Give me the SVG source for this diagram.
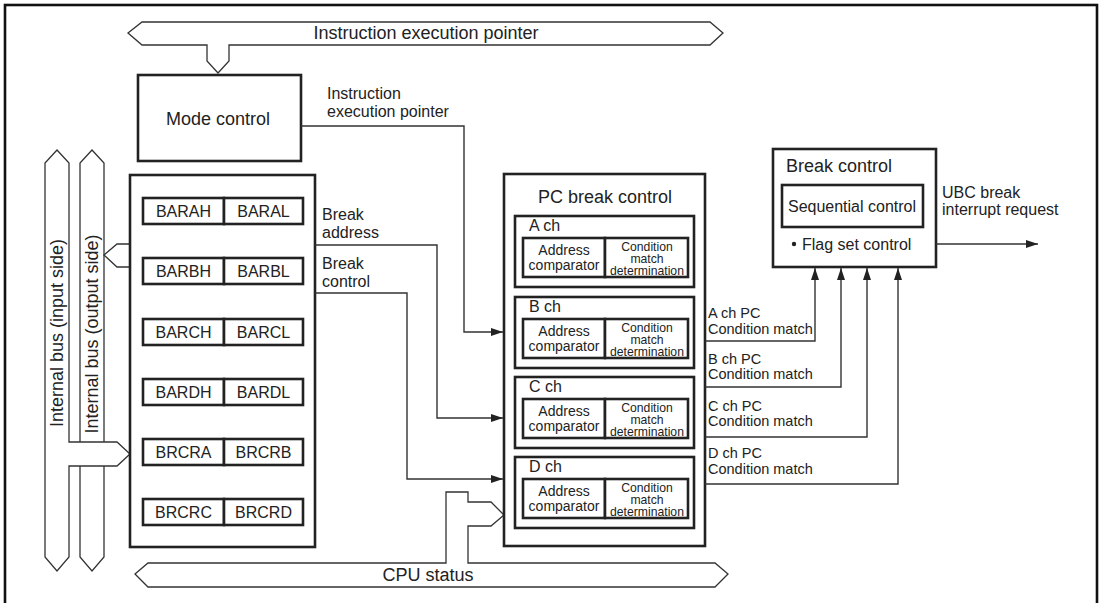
<svg xmlns="http://www.w3.org/2000/svg" width="1103" height="603" viewBox="0 0 1103 603">
<defs>
<style>
text{font-family:"Liberation Sans",Arial,sans-serif;fill:#222}
.t18{font-size:18px}.t16{font-size:16px}.t15{font-size:14.5px}.t14{font-size:14px}.t13{font-size:12.2px}
.mid{text-anchor:middle}
.box{fill:#fff;stroke:#222;stroke-width:2.6}
.bus{fill:#fff;stroke:#333;stroke-width:1.3;stroke-linejoin:miter}
.wire{fill:none;stroke:#333;stroke-width:1.4}
</style>
<marker id="ah" markerUnits="userSpaceOnUse" markerWidth="12" markerHeight="8" refX="12" refY="4" orient="auto">
<path d="M0,0 L12,4 L0,8 z" fill="#222"/>
</marker>
</defs>
<rect x="5" y="5" width="1092" height="600" fill="#fff" stroke="#111" stroke-width="2.6"/>

<g id="bus-instruction-pointer">
<polygon class="bus" points="128,33 142,22 710,22 723,33 710,45 229,45 229,61 218,73 207,61 207,45 142,45"/>
<text class="t18 mid" x="426" y="39">Instruction execution pointer</text>
</g>

<g id="bus-output-side">
<polygon class="bus" points="92,150 104,163 104,557 92,571 80,557 80,163"/>
<polyline class="bus" points="130,244 117,244 104,255 117,267 130,267"/>
<text class="t18 mid" transform="translate(98,334) rotate(-90)">Internal bus (output side)</text>
</g>

<g id="bus-input-side">
<polygon class="bus" points="57,150 69,163 69,442 117,442 130,454 117,466 69,466 69,557 57,571 45,557 45,163"/>
<text class="t18 mid" transform="translate(63,333) rotate(-90)">Internal bus (input side)</text>
</g>

<g id="bus-cpu-status">
<polygon class="bus" points="135,574 148,563 446,563 446,492 468,492 468,502 491,502 504,515 491,526 468,526 468,563 715,563 728,574 715,587 148,587"/>
<text class="t18 mid" x="428" y="581">CPU status</text>
</g>

<g id="mode-control">
<rect class="box" x="138" y="75" width="163" height="86"/>
<text class="t18 mid" x="218" y="125">Mode control</text>
</g>

<g id="registers">
<rect class="box" x="130" y="175" width="185" height="372"/>
<g class="t16">
<rect class="box" x="143" y="198" width="81" height="26"/><rect class="box" x="224" y="198" width="79" height="26"/>
<text class="mid" x="183.5" y="217">BARAH</text><text class="mid" x="263.5" y="217">BARAL</text>
<rect class="box" x="143" y="258" width="81" height="26"/><rect class="box" x="224" y="258" width="79" height="26"/>
<text class="mid" x="183.5" y="277">BARBH</text><text class="mid" x="263.5" y="277">BARBL</text>
<rect class="box" x="143" y="319" width="81" height="26"/><rect class="box" x="224" y="319" width="79" height="26"/>
<text class="mid" x="183.5" y="338">BARCH</text><text class="mid" x="263.5" y="338">BARCL</text>
<rect class="box" x="143" y="379" width="81" height="26"/><rect class="box" x="224" y="379" width="79" height="26"/>
<text class="mid" x="183.5" y="398">BARDH</text><text class="mid" x="263.5" y="398">BARDL</text>
<rect class="box" x="143" y="439" width="81" height="26"/><rect class="box" x="224" y="439" width="79" height="26"/>
<text class="mid" x="183.5" y="458">BRCRA</text><text class="mid" x="263.5" y="458">BRCRB</text>
<rect class="box" x="143" y="499" width="81" height="26"/><rect class="box" x="224" y="499" width="79" height="26"/>
<text class="mid" x="183.5" y="518">BRCRC</text><text class="mid" x="263.5" y="518">BRCRD</text>
</g>
</g>

<g id="pc-break-control">
<rect class="box" x="504" y="174" width="201" height="372"/>
<text class="t18 mid" x="605" y="203">PC break control</text>
<g id="ch-a">
<rect class="box" x="515" y="216" width="179" height="71"/>
<text class="t16" x="529" y="231">A ch</text>
<rect class="box" x="523" y="238" width="82" height="39"/><rect class="box" x="605" y="238" width="83" height="39"/>
<text class="t14 mid" x="564" y="255">Address</text><text class="t14 mid" x="564" y="270">comparator</text>
<text class="t13 mid" x="647" y="250.5">Condition</text><text class="t13 mid" x="647" y="262.5">match</text><text class="t13 mid" x="647" y="274.5">determination</text>
</g>
<g id="ch-b">
<rect class="box" x="515" y="297" width="179" height="71"/>
<text class="t16" x="529" y="312">B ch</text>
<rect class="box" x="523" y="319" width="82" height="39"/><rect class="box" x="605" y="319" width="83" height="39"/>
<text class="t14 mid" x="564" y="336">Address</text><text class="t14 mid" x="564" y="351">comparator</text>
<text class="t13 mid" x="647" y="331.5">Condition</text><text class="t13 mid" x="647" y="343.5">match</text><text class="t13 mid" x="647" y="355.5">determination</text>
</g>
<g id="ch-c">
<rect class="box" x="515" y="377" width="179" height="71"/>
<text class="t16" x="529" y="392">C ch</text>
<rect class="box" x="523" y="399" width="82" height="39"/><rect class="box" x="605" y="399" width="83" height="39"/>
<text class="t14 mid" x="564" y="416">Address</text><text class="t14 mid" x="564" y="431">comparator</text>
<text class="t13 mid" x="647" y="411.5">Condition</text><text class="t13 mid" x="647" y="423.5">match</text><text class="t13 mid" x="647" y="435.5">determination</text>
</g>
<g id="ch-d">
<rect class="box" x="515" y="457" width="179" height="71"/>
<text class="t16" x="529" y="472">D ch</text>
<rect class="box" x="523" y="479" width="82" height="39"/><rect class="box" x="605" y="479" width="83" height="39"/>
<text class="t14 mid" x="564" y="496">Address</text><text class="t14 mid" x="564" y="511">comparator</text>
<text class="t13 mid" x="647" y="491.5">Condition</text><text class="t13 mid" x="647" y="503.5">match</text><text class="t13 mid" x="647" y="515.5">determination</text>
</g>
</g>

<g id="break-control">
<rect class="box" x="773" y="149" width="163" height="118"/>
<text class="t18" x="786" y="172">Break control</text>
<rect class="box" x="782" y="185" width="141" height="42"/>
<text class="t16 mid" x="852" y="212">Sequential control</text>
<circle cx="794" cy="244" r="2.2" fill="#222"/>
<text class="t16" x="802" y="250">Flag set control</text>
</g>

<g id="connectors">
<polyline class="wire" points="301,126 464,126 464,332 503,332" marker-end="url(#ah)"/>
<polyline class="wire" points="315,245 437,245 437,418 503,418" marker-end="url(#ah)"/>
<polyline class="wire" points="315,293 407,293 407,479 503,479" marker-end="url(#ah)"/>
<polyline class="wire" points="705,341 815,341 815,268" marker-end="url(#ah)"/>
<polyline class="wire" points="705,387 841,387 841,268" marker-end="url(#ah)"/>
<polyline class="wire" points="705,437 867,437 867,268" marker-end="url(#ah)"/>
<polyline class="wire" points="705,484 898,484 898,268" marker-end="url(#ah)"/>
<line class="wire" x1="936" y1="244" x2="1038" y2="244" marker-end="url(#ah)"/>
</g>

<g id="labels" class="t16">
<text x="327" y="99">Instruction</text>
<text x="327" y="117">execution pointer</text>
<text x="322" y="220">Break</text>
<text x="322" y="238">address</text>
<text x="322" y="269">Break</text>
<text x="322" y="287">control</text>
<text x="942" y="198">UBC break</text>
<text x="942" y="215">interrupt request</text>
<g class="t15">
<text x="708" y="318">A ch PC</text><text x="708" y="334">Condition match</text>
<text x="708" y="364">B ch PC</text><text x="708" y="379">Condition match</text>
<text x="708" y="411">C ch PC</text><text x="708" y="426">Condition match</text>
<text x="708" y="458">D ch PC</text><text x="708" y="474">Condition match</text>
</g>
</g>
</svg>
